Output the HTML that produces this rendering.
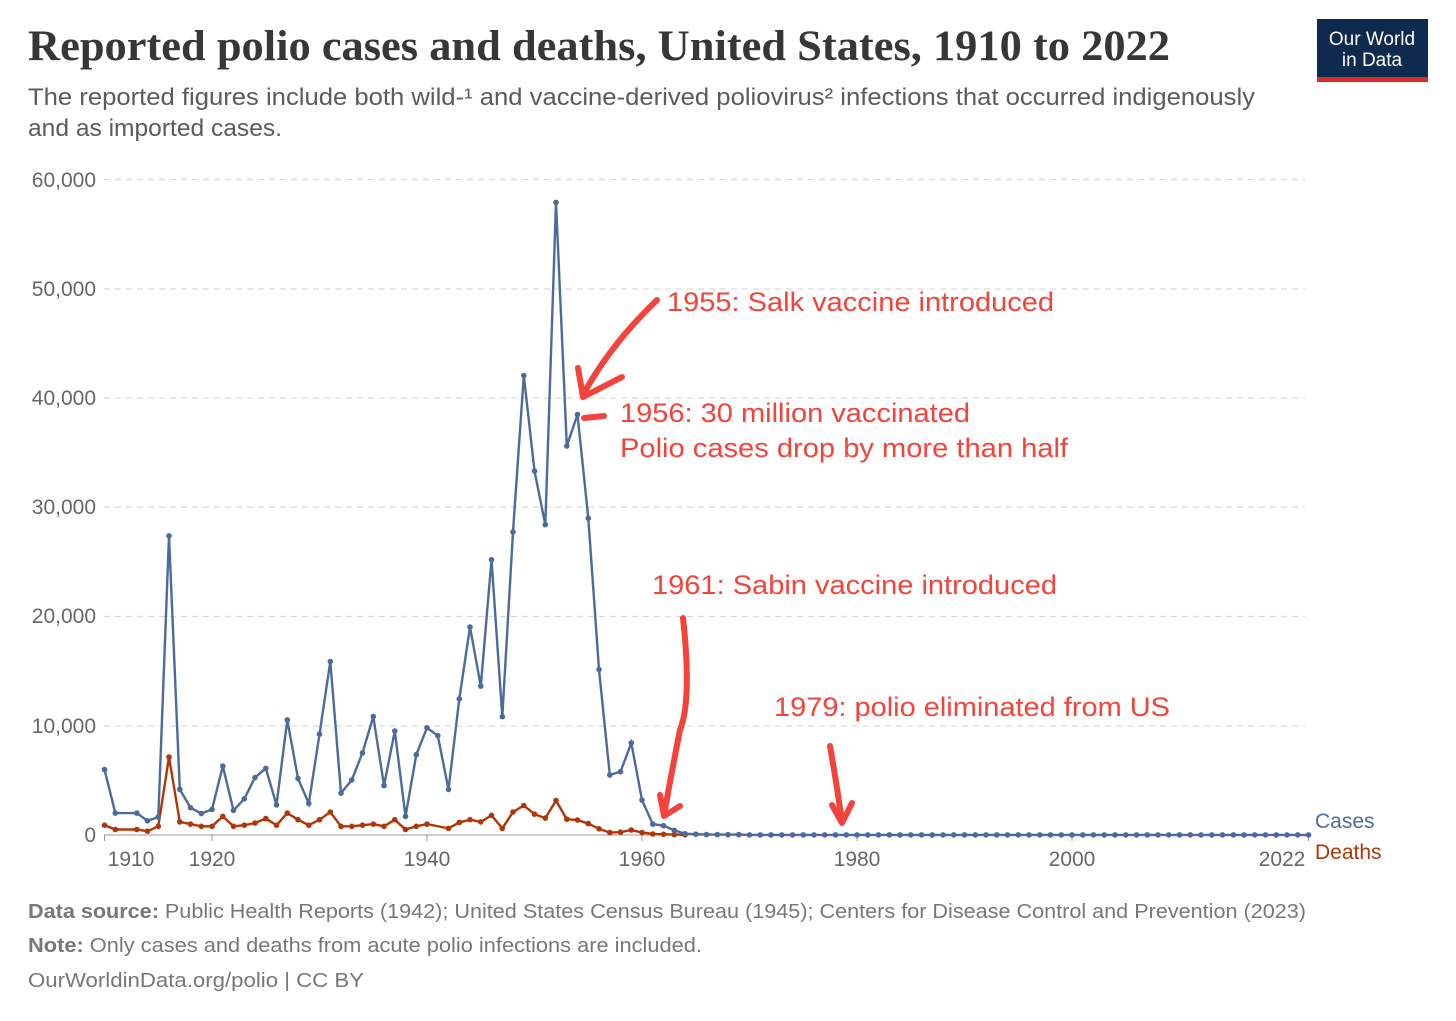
<!DOCTYPE html>
<html><head><meta charset="utf-8"><style>
body{margin:0;background:#fff;width:1456px;height:1016px;overflow:hidden;font-family:"Liberation Sans",sans-serif}
</style></head><body>
<svg width="1456" height="1016" xmlns="http://www.w3.org/2000/svg" font-family="Liberation Sans, sans-serif">
<text x="28" y="60" font-family="Liberation Serif, serif" font-size="43" font-weight="bold" fill="#373737" textLength="1142" lengthAdjust="spacingAndGlyphs">Reported polio cases and deaths, United States, 1910 to 2022</text>
<text x="28" y="105" font-size="24" fill="#5b5b5b" textLength="1227" lengthAdjust="spacingAndGlyphs">The reported figures include both wild-¹ and vaccine-derived poliovirus² infections that occurred indigenously</text>
<text x="28" y="136" font-size="24" fill="#5b5b5b" textLength="254" lengthAdjust="spacingAndGlyphs">and as imported cases.</text>
<rect x="1317" y="19" width="111" height="58" fill="#0f2a4f"/>
<rect x="1317" y="77" width="111" height="5" fill="#dc2a2a"/>
<text x="1372" y="45" font-size="19" fill="#fff" text-anchor="middle">Our World</text>
<text x="1372" y="66" font-size="19" fill="#fff" text-anchor="middle">in Data</text>
<g stroke="#d9d9d9" stroke-dasharray="6,5" stroke-width="1.3">
<line x1="104" x2="1305" y1="179.5" y2="179.5"/><line x1="104" x2="1305" y1="289" y2="289"/>
<line x1="104" x2="1305" y1="398" y2="398"/><line x1="104" x2="1305" y1="507" y2="507"/>
<line x1="104" x2="1305" y1="616.5" y2="616.5"/><line x1="104" x2="1305" y1="726" y2="726"/>
</g>
<g font-size="21" fill="#666" text-anchor="end">
<text x="96" y="187">60,000</text><text x="96" y="296">50,000</text><text x="96" y="405">40,000</text>
<text x="96" y="514">30,000</text><text x="96" y="623">20,000</text><text x="96" y="733">10,000</text><text x="96" y="842">0</text>
</g>
<line x1="104" x2="1309" y1="835" y2="835" stroke="#999"/>
<g stroke="#999"><line x1="104.5" x2="104.5" y1="835" y2="841"/><line x1="212" x2="212" y1="835" y2="841"/><line x1="427" x2="427" y1="835" y2="841"/><line x1="642" x2="642" y1="835" y2="841"/><line x1="857" x2="857" y1="835" y2="841"/><line x1="1072" x2="1072" y1="835" y2="841"/><line x1="1308.5" x2="1308.5" y1="835" y2="841"/></g>
<g font-size="21" fill="#666" text-anchor="middle">
<text x="131" y="866">1910</text><text x="212" y="866">1920</text><text x="427" y="866">1940</text><text x="642" y="866">1960</text><text x="857" y="866">1980</text><text x="1072" y="866">2000</text><text x="1282" y="866">2022</text>
</g>
<g id="series"></g>
<text x="1315" y="828" font-size="21" fill="#4c6a9c">Cases</text>
<text x="1315" y="859" font-size="21" fill="#b13507">Deaths</text>
<g fill="#f4433a" font-size="27">
<text x="667" y="311" textLength="387" lengthAdjust="spacingAndGlyphs">1955: Salk vaccine introduced</text>
<text x="620" y="422" textLength="350" lengthAdjust="spacingAndGlyphs">1956: 30 million vaccinated</text>
<text x="620" y="457" textLength="448" lengthAdjust="spacingAndGlyphs">Polio cases drop by more than half</text>
<text x="652" y="594" textLength="405" lengthAdjust="spacingAndGlyphs">1961: Sabin vaccine introduced</text>
<text x="774" y="716" textLength="396" lengthAdjust="spacingAndGlyphs">1979: polio eliminated from US</text>
</g>
<g stroke="#f4433a" stroke-width="6" fill="none" stroke-linecap="round" stroke-linejoin="round">
<path d="M657 300 Q610 345 583 395"/><path d="M578 368 L583 397 L622 377"/>
<path d="M584 418 L604 416"/>
<path d="M683 618 Q692 700 680 730 Q672 770 664 815"/><path d="M660 795 L664 816 L680 806"/>
<path d="M830 746 Q836 780 842 822"/><path d="M832 805 L842 823 L852 803"/>
</g>
<g font-size="20" fill="#777">
<text x="28" y="918" textLength="1278" lengthAdjust="spacingAndGlyphs"><tspan font-weight="bold">Data source:</tspan> Public Health Reports (1942); United States Census Bureau (1945); Centers for Disease Control and Prevention (2023)</text>
<text x="28" y="952" textLength="674" lengthAdjust="spacingAndGlyphs"><tspan font-weight="bold">Note:</tspan> Only cases and deaths from acute polio infections are included.</text>
<text x="28" y="987" textLength="336" lengthAdjust="spacingAndGlyphs">OurWorldinData.org/polio | CC BY</text>
</g>
</svg>
<script>
var cases={1910:5983,1911:2000,1913:2000,1914:1300,1915:1639,1916:27363,1917:4174,1918:2500,1919:1967,1920:2338,1921:6301,1922:2255,1923:3313,1924:5262,1925:6104,1926:2750,1927:10533,1928:5169,1929:2882,1930:9220,1931:15872,1932:3820,1933:5043,1934:7510,1935:10839,1936:4523,1937:9514,1938:1705,1939:7343,1940:9804,1941:9086,1942:4167,1943:12450,1944:19029,1945:13624,1946:25191,1947:10827,1948:27726,1949:42033,1950:33300,1951:28386,1952:57879,1953:35592,1954:38476,1955:28985,1956:15140,1957:5485,1958:5787,1959:8425,1960:3190,1961:1000,1962:850,1963:420,1964:122,1965:72};
for(var y=1966;y<=2022;y++)cases[y]=y<1970?40:5;
var deaths={1910:900,1911:500,1913:500,1914:350,1915:800,1916:7130,1917:1200,1918:1000,1919:800,1920:800,1921:1700,1922:800,1923:900,1924:1100,1925:1500,1926:900,1927:2000,1928:1400,1929:900,1930:1400,1931:2100,1932:800,1933:800,1934:900,1935:1000,1936:800,1937:1400,1938:500,1939:800,1940:1000,1942:600,1943:1150,1944:1400,1945:1200,1946:1800,1947:600,1948:2100,1949:2700,1950:1900,1951:1550,1952:3145,1953:1450,1954:1368,1955:1043,1956:566,1957:221,1958:255,1959:454,1960:230,1961:90,1962:60,1963:41,1964:17};
function draw(d,col){var g=document.getElementById('series'),pts=[],s='';
for(var k in d){var x=104.5+(k-1910)*10.75,y=835-d[k]*0.01093;pts.push(x.toFixed(1)+','+y.toFixed(1));s+='<circle cx="'+x.toFixed(1)+'" cy="'+y.toFixed(1)+'" r="2.8" fill="'+col+'"/>';}
g.innerHTML+='<polyline points="'+pts.join(' ')+'" fill="none" stroke="'+col+'" stroke-width="2.4"/>'+s;}
draw(deaths,'#b13507');draw(cases,'#4c6a9c');
</script>
</body></html>
